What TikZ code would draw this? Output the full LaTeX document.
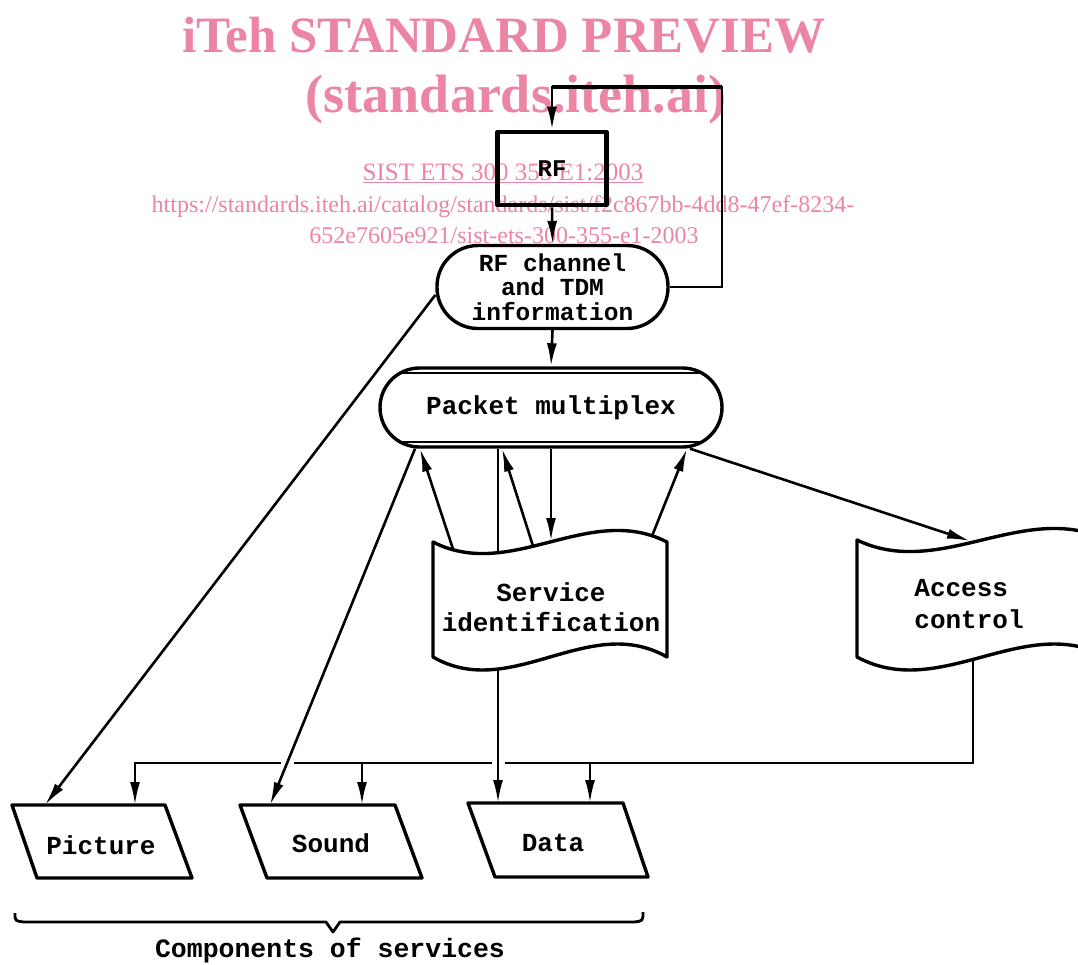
\documentclass[tikz,border=0pt]{standalone}
\usepackage{fontspec}
\setmonofont{Liberation Mono}
\newfontfamily\wmfont{Liberation Serif}
\usetikzlibrary{arrows.meta,calc}
\definecolor{wmpink}{RGB}{236,132,164}
\begin{document}
\begin{tikzpicture}[x=1pt,y=-1pt,
  conn/.style={line width=2.6pt},
  arr/.style={line width=2.6pt,-{Latex[length=23pt,width=10pt]}},
  box/.style={draw,line width=3.4pt,line join=round},
  lbl/.style={font=\ttfamily\bfseries\fontsize{26}{24}\selectfont, align=center, inner sep=0pt},
  wm/.style={text=wmpink, anchor=base, inner sep=0pt},
]
\useasboundingbox (0,0) rectangle (1078,964);
% ---- watermark (printed under the drawing) ----
\node[wm, font=\wmfont\bfseries\fontsize{51}{51}\selectfont] (wm1) at (504,52) {iTeh STANDARD PREVIEW};
\node[wm, font=\wmfont\bfseries\fontsize{54}{54}\selectfont] (wm2) at (516,112) {(standards.iteh.ai)};
\node[wm, font=\wmfont\fontsize{25}{25}\selectfont] (wm3) at (503,180) {\underline{SIST ETS 300 355 E1:2003}};
\node[wm, font=\wmfont\fontsize{24}{24}\selectfont] (wm4) at (503,212) {https://standards.iteh.ai/catalog/standards/sist/f2c867bb-4dd8-47ef-8234-};
\node[wm, font=\wmfont\fontsize{24}{24}\selectfont] (wm5) at (504,243) {652e7605e921/sist-ets-300-355-e1-2003};

% ---- nodes ----
\node[box, line width=4.6pt, minimum width=109pt, minimum height=73pt, inner sep=0pt,
      font=\ttfamily\bfseries\fontsize{24}{24}\selectfont] (rf) at (552,168.5) {RF};
\node[box, rounded corners=41pt, minimum width=231pt, minimum height=83pt, lbl,
      font=\ttfamily\bfseries\fontsize{24.5}{24.5}\selectfont] (rfch) at (552.5,287) {RF channel\\and TDM\\information};
\node[box, rounded corners=39.5pt, minimum width=342pt, minimum height=79pt, lbl] (pm) at (551,407.5) {Packet multiplex};
\draw[line width=2pt] ([xshift=-150pt,yshift=-7pt]pm.north) -- ([xshift=150pt,yshift=-7pt]pm.north);
\draw[line width=2pt] ([xshift=-150pt,yshift=7pt]pm.south) -- ([xshift=150pt,yshift=7pt]pm.south);

% ---- coordinates ----
\coordinate (lb) at (722,287);
\coordinate (lt) at (722,87);
\coordinate (picT1) at (45,805);
\coordinate (picT2) at (135,805);
\coordinate (sndT1) at (270,805);
\coordinate (sndT2) at (362,805);
\coordinate (datT1) at (498,803);
\coordinate (datT2) at (590,803);
\coordinate (sidT) at (551,541);
\coordinate (sidA) at (453,549);
\coordinate (sidB) at (533,546);
\coordinate (sidC) at (652,536);
\coordinate (acT) at (970,541);
\coordinate (acB) at (973,659);
\coordinate (busR) at (973,763);
\coordinate (busL) at (135,763);

% ---- connectors top ----
\draw[arr] (rf.south) -- (rfch.north);
\draw[arr] (rfch.east) -- (lb) -- (lt) -- (rf.north |- lt) -- (rf.north);
\draw[line width=4pt] (lt) -- (rf.north |- lt);
\draw[arr] (rfch.south) -- (pm.north);
\draw[arr] ([yshift=-8pt]rfch.west) -- (picT1);

% ---- bus ----
\draw[arr] (acB) -- (busR) -- (busL) -- (picT2);
\draw[arr] (sndT2 |- busR) -- (sndT2);
\draw[arr] (datT2 |- busR) -- (datT2);
\fill[white] (281,757) rectangle (294,769);
\fill[white] (492,757) rectangle (505,769);

% ---- lines from packet multiplex ----
\draw[arr] ([xshift=-136pt]pm.south) -- (sndT1);
\draw[arr] ([xshift=-53pt]pm.south) -- (datT1);
\draw[arr] (pm.south) -- (sidT);
\draw[arr] ([xshift=139pt]pm.south) -- (acT);

% ---- service identification ----
\draw[box, fill=white] (433,542) .. controls (511,582) and (589,502) .. (667,542) -- (667,657)
   .. controls (589,612) and (511,702) .. (433,657) -- cycle;
\node[lbl, font=\ttfamily\bfseries\fontsize{26}{30}\selectfont] (sid) at (551,607) {Service\\identification};
\draw[arr] (sidA) -- ([xshift=-131pt]pm.south);
\draw[arr] (sidB) -- ([xshift=-49pt]pm.south);
\draw[arr] (sidC) -- ([xshift=136pt]pm.south);

% ---- access control ----
\draw[box, fill=white] (857,540) .. controls (940,580) and (1024,500) .. (1107,540) -- (1107,657)
   .. controls (1024,612) and (940,702) .. (857,657) -- cycle;
\node[lbl, align=left, font=\ttfamily\bfseries\fontsize{26}{32}\selectfont] (ac) at (969,604) {Access\\control};

% ---- components ----
\draw[box] (12,805) -- (165,805) -- (192,878) -- (37,878) -- cycle;
\node[lbl] (pic) at (101,845) {Picture};
\draw[box] (240,805) -- (395,805) -- (422,878) -- (267,878) -- cycle;
\node[lbl] (snd) at (331,843) {Sound};
\draw[box] (468,803) -- (623,803) -- (648,877) -- (495,877) -- cycle;
\node[lbl] (dat) at (553,843) {Data};

% ---- brace ----
\draw[line width=2.8pt, line join=round] (15,913) .. controls (15,921) .. (24,922) -- (326,922) -- (333,932) -- (340,922) -- (634,922) .. controls (643,921) .. (643,912);
\node[lbl, font=\ttfamily\bfseries\fontsize{26.5}{26}\selectfont] (comp) at (330,950) {Components of services};
\end{tikzpicture}
\end{document}
